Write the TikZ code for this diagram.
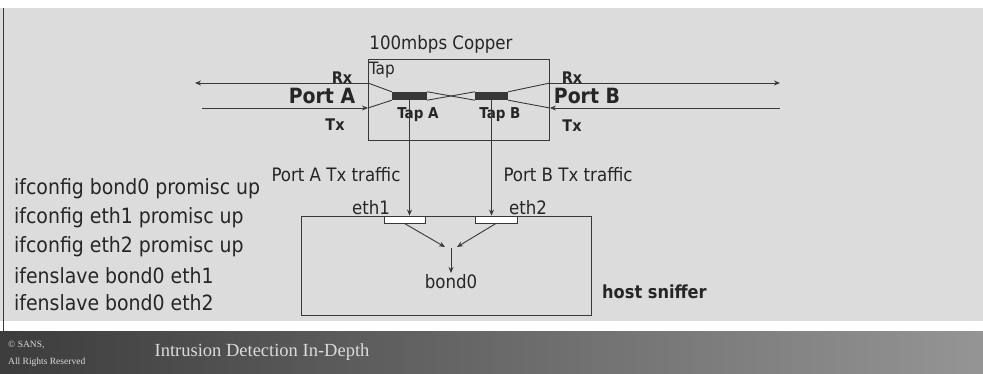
\documentclass[tikz,border=0pt]{standalone}
\usepackage{fontspec}
\setmainfont{DejaVu Sans Condensed}
\newfontfamily\footfont{Liberation Serif}
\usetikzlibrary{arrows.meta}
\definecolor{bg}{HTML}{DCDCDC}
\definecolor{ln}{HTML}{383838}
\definecolor{txt}{HTML}{262626}
\definecolor{footL}{HTML}{3C3C3C}
\definecolor{footR}{HTML}{959595}
\definecolor{foottxt}{HTML}{DADADA}
\tikzset{
  conn/.style={draw=ln, line width=0.9pt},
  arr/.style={conn, -{Stealth[length=6pt,width=5pt]}},
  boxnode/.style={draw=ln, line width=0.9pt, inner sep=0pt, anchor=north west},
  tapbar/.style={fill=ln, inner sep=0pt, minimum height=8pt},
  ethbox/.style={draw=ln, line width=0.9pt, fill=white, inner sep=0pt, minimum height=7pt},
  lbl/.style={text=txt, inner sep=1pt, font=\fontsize{18.5}{22}\selectfont},
  cmd/.style={text=txt, inner sep=0pt, anchor=west, font=\fontsize{21}{25}\selectfont},
  bigbold/.style={text=txt, inner sep=0pt, font=\bfseries\fontsize{21}{25}\selectfont},
  smbold/.style={text=txt, inner sep=0pt, font=\bfseries\fontsize{16}{19}\selectfont},
  tapbold/.style={text=txt, inner sep=0pt, font=\bfseries\fontsize{15}{18}\selectfont},
  foot/.style={text=foottxt, inner sep=0pt, font=\footfont\fontsize{9.5}{11}\selectfont, anchor=west}
}
\begin{document}
\begin{tikzpicture}[x=1pt,y=-1pt]
\useasboundingbox (0,0) rectangle (983,374);
\fill[white] (0,0) rectangle (983,374);
\fill[bg] (0,8) rectangle (983,321);
\shade[left color=footL, right color=footR] (0,331) rectangle (983,374);
\draw[ln, line width=0.9pt] (3,8) -- (3,331);

% tap box
\node[boxnode, minimum width=181pt, minimum height=81pt] (tap) at (368,59) {};
\node[lbl] (tapcap) at (441,44) {100mbps Copper};
\node[lbl, anchor=west, font=\fontsize{17}{20}\selectfont] (taptxt) at (368,70) {Tap};

% free ends
\coordinate (rxL) at (195,83);
\coordinate (txL) at (202,108);
\coordinate (rxR) at (780,83);
\coordinate (txR) at (780,108);

\draw[arr] (rxL -| tap.west) -- (rxL);
\draw[arr] (txL) -- (txL -| tap.west);
\draw[arr] (rxR -| tap.east) -- (rxR);
\draw[arr] (txR) -- (txR -| tap.east);

% tap bars
\node[tapbar, minimum width=35pt] (tapA) at (409.5,96) {};
\node[tapbar, minimum width=33pt] (tapB) at (491.5,96) {};
\draw[conn] (rxL -| tap.west) -- (tapA.north west);
\draw[conn] (txL -| tap.west) -- (tapA.south west);
\draw[conn] (rxR -| tap.east) -- (tapB.north east);
\draw[conn] (txR -| tap.east) -- (tapB.south east);
\draw[conn] (tapA.north east) -- (tapB.south west);
\draw[conn] (tapA.south east) -- (tapB.north west);

% port labels
\node[smbold] (rxA) at (342,78) {Rx};
\node[bigbold] (portA) at (322,96) {Port A};
\node[smbold] (txA) at (335,125) {Tx};
\node[smbold] (rxB) at (572,78) {Rx};
\node[bigbold] (portB) at (587,96) {Port B};
\node[smbold] (txB) at (572,126) {Tx};
\node[tapbold] (tapAl) at (418,115) {Tap A};
\node[tapbold] (tapBl) at (500,115) {Tap B};

% host box
\node[boxnode, minimum width=290pt, minimum height=99pt] (host) at (301,216) {};
\node[ethbox, minimum width=41pt] (eth1) at (404.5,219.5) {};
\node[ethbox, minimum width=42pt] (eth2) at (496,219.5) {};
\node[lbl] (eth1l) at (371,208) {eth1};
\node[lbl] (eth2l) at (528,208) {eth2};

\draw[arr] (tapA.south) -- (tapA.south |- eth1.north);
\draw[arr] (tapB.south) -- (tapB.south |- eth2.north);
\node[lbl] (trA) at (336,175) {Port A Tx traffic};
\node[lbl] (trB) at (568,175) {Port B Tx traffic};

\coordinate (j1) at (445,247);
\coordinate (j2) at (457,247);
\coordinate (b0) at (451,248);
\draw[arr] (eth1.south) -- (j1);
\draw[arr] (eth2.south) -- (j2);
\node[lbl, anchor=north] (bond) at (451,273) {bond0};
\draw[arr] (b0) -- (bond.north);

\node[text=txt, inner sep=0pt, anchor=west, font=\bfseries\fontsize{18}{21}\selectfont] (sniff) at (602,292) {host sniffer};

% commands
\node[cmd] (c1) at (14,189) {ifconfig bond0 promisc up};
\node[cmd] (c2) at (14,218) {ifconfig eth1 promisc up};
\node[cmd] (c3) at (14,247) {ifconfig eth2 promisc up};
\node[cmd] (c4) at (14,276) {ifenslave bond0 eth1};
\node[cmd] (c5) at (14,303) {ifenslave bond0 eth2};

% footer
\node[foot] (f1) at (8,345) {© SANS,};
\node[foot] (f2) at (8,362) {All Rights Reserved};
\node[text=foottxt, inner sep=0pt, font=\footfont\fontsize{18.5}{22}\selectfont] (title) at (262,352) {Intrusion Detection In-Depth};
\end{tikzpicture}
\end{document}
